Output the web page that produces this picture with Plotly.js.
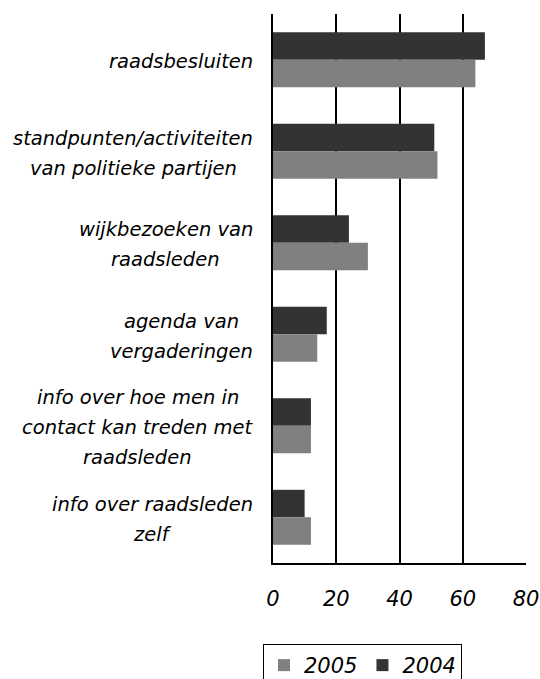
<!DOCTYPE html>
<html>
<head>
<meta charset="utf-8">
<script src="https://cdn.plot.ly/plotly-3.0.1.min.js"></script>
<style>html,body{margin:0;padding:0;background:#fff;}#chart{width:540px;height:679px;}</style>
</head>
<body>
<div id="chart"></div>
<script>
const categories = [
  "raadsbesluiten",
  "standpunten/activiteiten<br>van politieke partijen",
  "wijkbezoeken van<br>raadsleden",
  "agenda van<br>vergaderingen",
  "info over hoe men in<br>contact kan treden met<br>raadsleden",
  "info over raadsleden<br>zelf"
];
const values2004 = [67, 51, 24, 17, 12, 10];
const values2005 = [64, 52, 30, 14, 12, 12];
const seriesNames = ["2004", "2005"];
const xTicks = [0, 20, 40, 60, 80];

const FONT = '"DejaVu Sans", Verdana, sans-serif';
const labelSize = 19.5;
const lineGap = 30;

const ctx = document.createElement('canvas').getContext('2d');
ctx.font = 'italic ' + labelSize + 'px "DejaVu Sans"';

const annotations = [];
categories.forEach(function (cat) {
  const lines = cat.split('<br>');
  const maxW = Math.max.apply(null, lines.map(function (l) { return ctx.measureText(l).width; }));
  const n = lines.length;
  lines.forEach(function (line, i) {
    annotations.push({
      text: line,
      xref: 'paper', x: 0,
      yref: 'y', y: cat,
      xanchor: 'center', yanchor: 'middle',
      xshift: -20 - maxW / 2,
      yshift: ((n - 1) / 2 - i) * lineGap - 2,
      showarrow: false,
      font: {family: FONT, size: labelSize, style: 'italic', color: '#000'}
    });
  });
});

const data = [
  {type: 'bar', orientation: 'h', name: seriesNames[0], y: categories, x: values2004,
   marker: {color: '#333333'}, hoverinfo: 'none'},
  {type: 'bar', orientation: 'h', name: seriesNames[1], y: categories, x: values2005,
   marker: {color: '#808080'}, hoverinfo: 'none'}
];

const layout = {
  width: 540, height: 679,
  margin: {l: 273, r: 14, t: 14, b: 116, autoexpand: false},
  paper_bgcolor: '#fff', plot_bgcolor: '#fff',
  barmode: 'group', bargap: 0.4, bargroupgap: 0,
  font: {family: FONT, color: '#000'},
  showlegend: true,
  legend: {
    orientation: 'h', traceorder: 'reversed',
    x: -0.0395, xanchor: 'left', y: -0.1475, yanchor: 'top',
    bordercolor: '#000', borderwidth: 1, bgcolor: '#fff',
    itemwidth: 30,
    font: {family: FONT, size: 21, style: 'italic', color: '#000'}
  },
  xaxis: {
    range: [0, 80], tickvals: xTicks, ticktext: xTicks.map(String),
    showgrid: true, gridcolor: '#000', gridwidth: 2,
    zeroline: false, showline: true, linecolor: '#000', linewidth: 2,
    ticks: '', ticklabelstandoff: 16,
    tickfont: {family: FONT, size: 21, style: 'italic', color: '#000'},
    fixedrange: true
  },
  yaxis: {
    type: 'category', autorange: 'reversed',
    showticklabels: false, showgrid: false, zeroline: false,
    showline: true, linecolor: '#000', linewidth: 2, ticks: '',
    fixedrange: true
  },
  annotations: annotations
};

Plotly.newPlot('chart', data, layout, {displayModeBar: false, staticPlot: true});
</script>
</body>
</html>
